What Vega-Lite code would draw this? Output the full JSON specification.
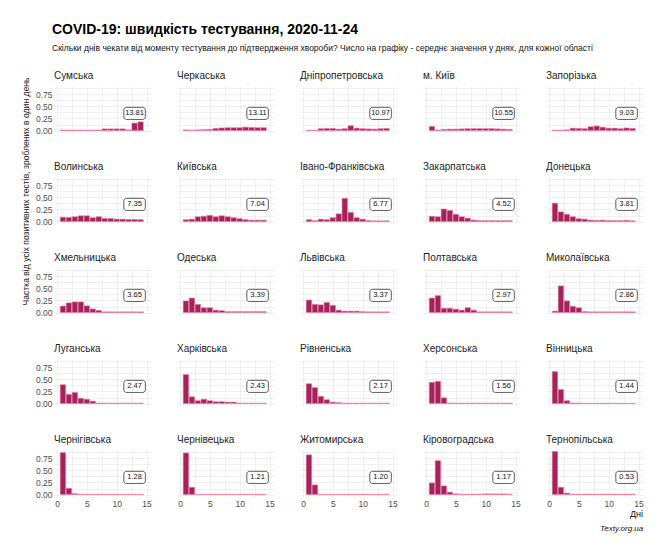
{
  "$schema": "https://vega.github.io/schema/vega-lite/v6.json",
  "padding": {"left": 21, "top": 22, "right": 10, "bottom": 5},
  "background": "white",
  "title": {
    "text": "COVID-19: швидкість тестування, 2020-11-24",
    "subtitle": "Скільки днів чекати від моменту тестування до підтвердження хвороби? Число на графіку - середнє значення у днях, для кожної області",
    "anchor": "start",
    "frame": "bounds",
    "dx": 31,
    "font": "Liberation Sans, Arial, sans-serif",
    "subtitleFont": "Liberation Sans, Arial, sans-serif",
    "fontSize": 14,
    "fontWeight": "bold",
    "color": "#000000",
    "subtitleFontSize": 8.5,
    "subtitleColor": "#111111",
    "subtitlePadding": 7,
    "offset": 19
  },
  "data": {"values": [
    {"r":"Сумська","m":13.81},{"r":"Черкаська","m":13.11},{"r":"Дніпропетровська","m":10.97},{"r":"м. Київ","m":10.55},{"r":"Запорізька","m":9.03},
    {"r":"Волинська","m":7.35},{"r":"Київська","m":7.04},{"r":"Івано-Франківська","m":6.77},{"r":"Закарпатська","m":4.52},{"r":"Донецька","m":3.81},
    {"r":"Хмельницька","m":3.65},{"r":"Одеська","m":3.39},{"r":"Львівська","m":3.37},{"r":"Полтавська","m":2.97},{"r":"Миколаївська","m":2.86},
    {"r":"Луганська","m":2.47},{"r":"Харківська","m":2.43},{"r":"Рівненська","m":2.17},{"r":"Херсонська","m":1.56},{"r":"Вінницька","m":1.44},
    {"r":"Чернігівська","m":1.28},{"r":"Чернівецька","m":1.21},{"r":"Житомирська","m":1.20},{"r":"Кіровоградська","m":1.17},{"r":"Тернопільська","m":0.53},

    {"r":"Сумська","d":1,"v":0.012},{"r":"Сумська","d":2,"v":0.01},{"r":"Сумська","d":3,"v":0.01},{"r":"Сумська","d":4,"v":0.01},{"r":"Сумська","d":5,"v":0.01},{"r":"Сумська","d":6,"v":0.01},{"r":"Сумська","d":7,"v":0.012},{"r":"Сумська","d":8,"v":0.035},{"r":"Сумська","d":9,"v":0.035},{"r":"Сумська","d":10,"v":0.035},{"r":"Сумська","d":11,"v":0.035},{"r":"Сумська","d":12,"v":0.015},{"r":"Сумська","d":13,"v":0.155},{"r":"Сумська","d":14,"v":0.18},

    {"r":"Черкаська","d":1,"v":0.015},{"r":"Черкаська","d":2,"v":0.01},{"r":"Черкаська","d":3,"v":0.015},{"r":"Черкаська","d":4,"v":0.02},{"r":"Черкаська","d":5,"v":0.025},{"r":"Черкаська","d":6,"v":0.045},{"r":"Черкаська","d":7,"v":0.055},{"r":"Черкаська","d":8,"v":0.06},{"r":"Черкаська","d":9,"v":0.06},{"r":"Черкаська","d":10,"v":0.06},{"r":"Черкаська","d":11,"v":0.07},{"r":"Черкаська","d":12,"v":0.065},{"r":"Черкаська","d":13,"v":0.06},{"r":"Черкаська","d":14,"v":0.06},

    {"r":"Дніпропетровська","d":1,"v":0.01},{"r":"Дніпропетровська","d":2,"v":0.01},{"r":"Дніпропетровська","d":3,"v":0.04},{"r":"Дніпропетровська","d":4,"v":0.045},{"r":"Дніпропетровська","d":5,"v":0.045},{"r":"Дніпропетровська","d":6,"v":0.03},{"r":"Дніпропетровська","d":7,"v":0.04},{"r":"Дніпропетровська","d":8,"v":0.1},{"r":"Дніпропетровська","d":9,"v":0.05},{"r":"Дніпропетровська","d":10,"v":0.04},{"r":"Дніпропетровська","d":11,"v":0.035},{"r":"Дніпропетровська","d":12,"v":0.03},{"r":"Дніпропетровська","d":13,"v":0.04},{"r":"Дніпропетровська","d":14,"v":0.045},

    {"r":"м. Київ","d":1,"v":0.085},{"r":"м. Київ","d":2,"v":0.01},{"r":"м. Київ","d":3,"v":0.025},{"r":"м. Київ","d":4,"v":0.03},{"r":"м. Київ","d":5,"v":0.03},{"r":"м. Київ","d":6,"v":0.035},{"r":"м. Київ","d":7,"v":0.04},{"r":"м. Київ","d":8,"v":0.04},{"r":"м. Київ","d":9,"v":0.04},{"r":"м. Київ","d":10,"v":0.04},{"r":"м. Київ","d":11,"v":0.04},{"r":"м. Київ","d":12,"v":0.035},{"r":"м. Київ","d":13,"v":0.03},{"r":"м. Київ","d":14,"v":0.025},

    {"r":"Запорізька","d":1,"v":0.01},{"r":"Запорізька","d":2,"v":0.01},{"r":"Запорізька","d":3,"v":0.015},{"r":"Запорізька","d":4,"v":0.05},{"r":"Запорізька","d":5,"v":0.045},{"r":"Запорізька","d":6,"v":0.04},{"r":"Запорізька","d":7,"v":0.08},{"r":"Запорізька","d":8,"v":0.095},{"r":"Запорізька","d":9,"v":0.07},{"r":"Запорізька","d":10,"v":0.05},{"r":"Запорізька","d":11,"v":0.05},{"r":"Запорізька","d":12,"v":0.04},{"r":"Запорізька","d":13,"v":0.055},{"r":"Запорізька","d":14,"v":0.045},

    {"r":"Волинська","d":1,"v":0.09},{"r":"Волинська","d":2,"v":0.085},{"r":"Волинська","d":3,"v":0.1},{"r":"Волинська","d":4,"v":0.12},{"r":"Волинська","d":5,"v":0.12},{"r":"Волинська","d":6,"v":0.08},{"r":"Волинська","d":7,"v":0.1},{"r":"Волинська","d":8,"v":0.065},{"r":"Волинська","d":9,"v":0.065},{"r":"Волинська","d":10,"v":0.05},{"r":"Волинська","d":11,"v":0.05},{"r":"Волинська","d":12,"v":0.045},{"r":"Волинська","d":13,"v":0.045},{"r":"Волинська","d":14,"v":0.04},

    {"r":"Київська","d":1,"v":0.04},{"r":"Київська","d":2,"v":0.05},{"r":"Київська","d":3,"v":0.1},{"r":"Київська","d":4,"v":0.11},{"r":"Київська","d":5,"v":0.13},{"r":"Київська","d":6,"v":0.1},{"r":"Київська","d":7,"v":0.12},{"r":"Київська","d":8,"v":0.1},{"r":"Київська","d":9,"v":0.08},{"r":"Київська","d":10,"v":0.06},{"r":"Київська","d":11,"v":0.04},{"r":"Київська","d":12,"v":0.03},{"r":"Київська","d":13,"v":0.03},{"r":"Київська","d":14,"v":0.03},

    {"r":"Івано-Франківська","d":1,"v":0.04},{"r":"Івано-Франківська","d":2,"v":0.02},{"r":"Івано-Франківська","d":3,"v":0.05},{"r":"Івано-Франківська","d":4,"v":0.04},{"r":"Івано-Франківська","d":5,"v":0.08},{"r":"Івано-Франківська","d":6,"v":0.16},{"r":"Івано-Франківська","d":7,"v":0.48},{"r":"Івано-Франківська","d":8,"v":0.19},{"r":"Івано-Франківська","d":9,"v":0.08},{"r":"Івано-Франківська","d":10,"v":0.05},{"r":"Івано-Франківська","d":11,"v":0.02},{"r":"Івано-Франківська","d":12,"v":0.015},{"r":"Івано-Франківська","d":13,"v":0.015},{"r":"Івано-Франківська","d":14,"v":0.015},

    {"r":"Закарпатська","d":1,"v":0.11},{"r":"Закарпатська","d":2,"v":0.1},{"r":"Закарпатська","d":3,"v":0.26},{"r":"Закарпатська","d":4,"v":0.23},{"r":"Закарпатська","d":5,"v":0.15},{"r":"Закарпатська","d":6,"v":0.1},{"r":"Закарпатська","d":7,"v":0.07},{"r":"Закарпатська","d":8,"v":0.03},{"r":"Закарпатська","d":9,"v":0.02},{"r":"Закарпатська","d":10,"v":0.02},{"r":"Закарпатська","d":11,"v":0.02},{"r":"Закарпатська","d":12,"v":0.02},{"r":"Закарпатська","d":13,"v":0.02},{"r":"Закарпатська","d":14,"v":0.02},

    {"r":"Донецька","d":1,"v":0.38},{"r":"Донецька","d":2,"v":0.2},{"r":"Донецька","d":3,"v":0.15},{"r":"Донецька","d":4,"v":0.1},{"r":"Донецька","d":5,"v":0.06},{"r":"Донецька","d":6,"v":0.05},{"r":"Донецька","d":7,"v":0.03},{"r":"Донецька","d":8,"v":0.025},{"r":"Донецька","d":9,"v":0.03},{"r":"Донецька","d":10,"v":0.02},{"r":"Донецька","d":11,"v":0.02},{"r":"Донецька","d":12,"v":0.02},{"r":"Донецька","d":13,"v":0.025},{"r":"Донецька","d":14,"v":0.015},

    {"r":"Хмельницька","d":1,"v":0.135},{"r":"Хмельницька","d":2,"v":0.2},{"r":"Хмельницька","d":3,"v":0.22},{"r":"Хмельницька","d":4,"v":0.22},{"r":"Хмельницька","d":5,"v":0.14},{"r":"Хмельницька","d":6,"v":0.075},{"r":"Хмельницька","d":7,"v":0.045},{"r":"Хмельницька","d":8,"v":0.015},{"r":"Хмельницька","d":9,"v":0.015},{"r":"Хмельницька","d":10,"v":0.015},{"r":"Хмельницька","d":11,"v":0.015},{"r":"Хмельницька","d":12,"v":0.015},{"r":"Хмельницька","d":13,"v":0.015},{"r":"Хмельницька","d":14,"v":0.015},

    {"r":"Одеська","d":1,"v":0.24},{"r":"Одеська","d":2,"v":0.3},{"r":"Одеська","d":3,"v":0.17},{"r":"Одеська","d":4,"v":0.1},{"r":"Одеська","d":5,"v":0.1},{"r":"Одеська","d":6,"v":0.05},{"r":"Одеська","d":7,"v":0.04},{"r":"Одеська","d":8,"v":0.02},{"r":"Одеська","d":9,"v":0.02},{"r":"Одеська","d":10,"v":0.02},{"r":"Одеська","d":11,"v":0.02},{"r":"Одеська","d":12,"v":0.02},{"r":"Одеська","d":13,"v":0.02},{"r":"Одеська","d":14,"v":0.02},

    {"r":"Львівська","d":1,"v":0.26},{"r":"Львівська","d":2,"v":0.17},{"r":"Львівська","d":3,"v":0.16},{"r":"Львівська","d":4,"v":0.21},{"r":"Львівська","d":5,"v":0.15},{"r":"Львівська","d":6,"v":0.05},{"r":"Львівська","d":7,"v":0.03},{"r":"Львівська","d":8,"v":0.03},{"r":"Львівська","d":9,"v":0.03},{"r":"Львівська","d":10,"v":0.02},{"r":"Львівська","d":11,"v":0.015},{"r":"Львівська","d":12,"v":0.015},{"r":"Львівська","d":13,"v":0.015},{"r":"Львівська","d":14,"v":0.015},

    {"r":"Полтавська","d":1,"v":0.3},{"r":"Полтавська","d":2,"v":0.35},{"r":"Полтавська","d":3,"v":0.09},{"r":"Полтавська","d":4,"v":0.09},{"r":"Полтавська","d":5,"v":0.07},{"r":"Полтавська","d":6,"v":0.05},{"r":"Полтавська","d":7,"v":0.1},{"r":"Полтавська","d":8,"v":0.05},{"r":"Полтавська","d":9,"v":0.015},{"r":"Полтавська","d":10,"v":0.015},{"r":"Полтавська","d":11,"v":0.015},{"r":"Полтавська","d":12,"v":0.015},{"r":"Полтавська","d":13,"v":0.015},{"r":"Полтавська","d":14,"v":0.015},

    {"r":"Миколаївська","d":1,"v":0.03},{"r":"Миколаївська","d":2,"v":0.55},{"r":"Миколаївська","d":3,"v":0.24},{"r":"Миколаївська","d":4,"v":0.13},{"r":"Миколаївська","d":5,"v":0.1},{"r":"Миколаївська","d":6,"v":0.02},{"r":"Миколаївська","d":7,"v":0.015},{"r":"Миколаївська","d":8,"v":0.015},{"r":"Миколаївська","d":9,"v":0.015},{"r":"Миколаївська","d":10,"v":0.015},{"r":"Миколаївська","d":11,"v":0.015},{"r":"Миколаївська","d":12,"v":0.015},{"r":"Миколаївська","d":13,"v":0.015},{"r":"Миколаївська","d":14,"v":0.015},

    {"r":"Луганська","d":1,"v":0.39},{"r":"Луганська","d":2,"v":0.19},{"r":"Луганська","d":3,"v":0.23},{"r":"Луганська","d":4,"v":0.11},{"r":"Луганська","d":5,"v":0.09},{"r":"Луганська","d":6,"v":0.05},{"r":"Луганська","d":7,"v":0.012},{"r":"Луганська","d":8,"v":0.01},{"r":"Луганська","d":9,"v":0.01},{"r":"Луганська","d":10,"v":0.01},{"r":"Луганська","d":11,"v":0.01},{"r":"Луганська","d":12,"v":0.01},{"r":"Луганська","d":13,"v":0.01},{"r":"Луганська","d":14,"v":0.01},

    {"r":"Харківська","d":1,"v":0.6},{"r":"Харківська","d":2,"v":0.14},{"r":"Харківська","d":3,"v":0.06},{"r":"Харківська","d":4,"v":0.09},{"r":"Харківська","d":5,"v":0.06},{"r":"Харківська","d":6,"v":0.04},{"r":"Харківська","d":7,"v":0.04},{"r":"Харківська","d":8,"v":0.03},{"r":"Харківська","d":9,"v":0.03},{"r":"Харківська","d":10,"v":0.01},{"r":"Харківська","d":11,"v":0.01},{"r":"Харківська","d":12,"v":0.01},{"r":"Харківська","d":13,"v":0.01},{"r":"Харківська","d":14,"v":0.01},

    {"r":"Рівненська","d":1,"v":0.41},{"r":"Рівненська","d":2,"v":0.33},{"r":"Рівненська","d":3,"v":0.15},{"r":"Рівненська","d":4,"v":0.08},{"r":"Рівненська","d":5,"v":0.03},{"r":"Рівненська","d":6,"v":0.02},{"r":"Рівненська","d":7,"v":0.01},{"r":"Рівненська","d":8,"v":0.01},{"r":"Рівненська","d":9,"v":0.01},{"r":"Рівненська","d":10,"v":0.01},{"r":"Рівненська","d":11,"v":0.01},{"r":"Рівненська","d":12,"v":0.01},{"r":"Рівненська","d":13,"v":0.01},{"r":"Рівненська","d":14,"v":0.01},

    {"r":"Херсонська","d":1,"v":0.44},{"r":"Херсонська","d":2,"v":0.46},{"r":"Херсонська","d":3,"v":0.12},{"r":"Херсонська","d":4,"v":0.01},{"r":"Херсонська","d":5,"v":0.01},{"r":"Херсонська","d":6,"v":0.01},{"r":"Херсонська","d":7,"v":0.01},{"r":"Херсонська","d":8,"v":0.01},{"r":"Херсонська","d":9,"v":0.01},{"r":"Херсонська","d":10,"v":0.01},{"r":"Херсонська","d":11,"v":0.01},{"r":"Херсонська","d":12,"v":0.01},{"r":"Херсонська","d":13,"v":0.01},{"r":"Херсонська","d":14,"v":0.01},

    {"r":"Вінницька","d":1,"v":0.66},{"r":"Вінницька","d":2,"v":0.29},{"r":"Вінницька","d":3,"v":0.06},{"r":"Вінницька","d":4,"v":0.012},{"r":"Вінницька","d":5,"v":0.012},{"r":"Вінницька","d":6,"v":0.007},{"r":"Вінницька","d":7,"v":0.007},{"r":"Вінницька","d":8,"v":0.007},{"r":"Вінницька","d":9,"v":0.007},{"r":"Вінницька","d":10,"v":0.007},{"r":"Вінницька","d":11,"v":0.007},{"r":"Вінницька","d":12,"v":0.007},{"r":"Вінницька","d":13,"v":0.007},{"r":"Вінницька","d":14,"v":0.007},

    {"r":"Чернігівська","d":1,"v":0.865},{"r":"Чернігівська","d":2,"v":0.13},{"r":"Чернігівська","d":3,"v":0.02},{"r":"Чернігівська","d":4,"v":0.007},{"r":"Чернігівська","d":5,"v":0.007},{"r":"Чернігівська","d":6,"v":0.007},{"r":"Чернігівська","d":7,"v":0.007},{"r":"Чернігівська","d":8,"v":0.007},{"r":"Чернігівська","d":9,"v":0.007},{"r":"Чернігівська","d":10,"v":0.007},{"r":"Чернігівська","d":11,"v":0.007},{"r":"Чернігівська","d":12,"v":0.007},{"r":"Чернігівська","d":13,"v":0.007},{"r":"Чернігівська","d":14,"v":0.007},

    {"r":"Чернівецька","d":1,"v":0.86},{"r":"Чернівецька","d":2,"v":0.15},{"r":"Чернівецька","d":3,"v":0.007},{"r":"Чернівецька","d":4,"v":0.007},{"r":"Чернівецька","d":5,"v":0.007},{"r":"Чернівецька","d":6,"v":0.007},{"r":"Чернівецька","d":7,"v":0.007},{"r":"Чернівецька","d":8,"v":0.007},{"r":"Чернівецька","d":9,"v":0.007},{"r":"Чернівецька","d":10,"v":0.007},{"r":"Чернівецька","d":11,"v":0.007},{"r":"Чернівецька","d":12,"v":0.007},{"r":"Чернівецька","d":13,"v":0.007},{"r":"Чернівецька","d":14,"v":0.007},

    {"r":"Житомирська","d":1,"v":0.82},{"r":"Житомирська","d":2,"v":0.2},{"r":"Житомирська","d":3,"v":0.007},{"r":"Житомирська","d":4,"v":0.007},{"r":"Житомирська","d":5,"v":0.007},{"r":"Житомирська","d":6,"v":0.007},{"r":"Житомирська","d":7,"v":0.007},{"r":"Житомирська","d":8,"v":0.007},{"r":"Житомирська","d":9,"v":0.007},{"r":"Житомирська","d":10,"v":0.007},{"r":"Житомирська","d":11,"v":0.007},{"r":"Житомирська","d":12,"v":0.007},{"r":"Житомирська","d":13,"v":0.007},{"r":"Житомирська","d":14,"v":0.007},

    {"r":"Кіровоградська","d":1,"v":0.24},{"r":"Кіровоградська","d":2,"v":0.7},{"r":"Кіровоградська","d":3,"v":0.18},{"r":"Кіровоградська","d":4,"v":0.05},{"r":"Кіровоградська","d":5,"v":0.015},{"r":"Кіровоградська","d":6,"v":0.01},{"r":"Кіровоградська","d":7,"v":0.01},{"r":"Кіровоградська","d":8,"v":0.01},{"r":"Кіровоградська","d":9,"v":0.01},{"r":"Кіровоградська","d":10,"v":0.015},{"r":"Кіровоградська","d":11,"v":0.015},{"r":"Кіровоградська","d":12,"v":0.015},{"r":"Кіровоградська","d":13,"v":0.015},{"r":"Кіровоградська","d":14,"v":0.01},

    {"r":"Тернопільська","d":1,"v":0.89},{"r":"Тернопільська","d":2,"v":0.15},{"r":"Тернопільська","d":3,"v":0.03},{"r":"Тернопільська","d":4,"v":0.01},{"r":"Тернопільська","d":5,"v":0.01},{"r":"Тернопільська","d":6,"v":0.01},{"r":"Тернопільська","d":7,"v":0.01},{"r":"Тернопільська","d":8,"v":0.01},{"r":"Тернопільська","d":9,"v":0.01},{"r":"Тернопільська","d":10,"v":0.01},{"r":"Тернопільська","d":11,"v":0.01},{"r":"Тернопільська","d":12,"v":0.01},{"r":"Тернопільська","d":13,"v":0.01},{"r":"Тернопільська","d":14,"v":0.01}
  ]},
  "spacing": 0,
  "hconcat": [
    {
      "width": 1,
      "height": 210,
      "transform": [{"filter": "isValid(datum.v)"}],
      "mark": {"type": "point", "opacity": 0},
      "encoding": {
        "y": {
          "field": "v", "type": "quantitative",
          "axis": {
            "title": "Частка від усіх позитивних тестів, зроблених в один день",
            "titleAnchor": "middle",
            "labels": false, "grid": false, "ticks": false, "domain": false,
            "titlePadding": 1
          }
        }
      }
    },
    {
      "title": {
        "text": "Texty.org.ua",
        "orient": "bottom",
        "anchor": "end",
        "fontSize": 8,
        "fontStyle": "italic",
        "fontWeight": "normal",
        "color": "#111111",
        "font": "Liberation Sans, Arial, sans-serif",
        "offset": 6
      },
      "facet": {
        "field": "r",
        "type": "nominal",
        "sort": ["Сумська","Черкаська","Дніпропетровська","м. Київ","Запорізька","Волинська","Київська","Івано-Франківська","Закарпатська","Донецька","Хмельницька","Одеська","Львівська","Полтавська","Миколаївська","Луганська","Харківська","Рівненська","Херсонська","Вінницька","Чернігівська","Чернівецька","Житомирська","Кіровоградська","Тернопільська"],
        "title": "Дні",
        "header": {
          "labelAnchor": "start",
          "labelAlign": "left",
          "labelFontSize": 10,
          "labelColor": "#222222",
          "labelPadding": 5,
          "labelFont": "Liberation Sans, Arial, sans-serif",
          "titleOrient": "bottom",
          "titleAnchor": "end",
          "titlePadding": 2,
          "titleFontSize": 9,
          "titleFontWeight": "normal",
          "titleColor": "#111111",
          "titleFont": "Liberation Sans, Arial, sans-serif"
        }
      },
      "columns": 5,
      "spacing": {"row": 29, "column": 26},
      "spec": {
        "width": 97,
        "height": 47,
        "layer": [
          {
            "transform": [{"filter": "isValid(datum.d)"}],
            "mark": {"type": "bar", "width": 5.5, "color": "#a3245a", "stroke": "#f07fab", "strokeWidth": 0.6},
            "encoding": {
              "x": {
                "field": "d", "type": "quantitative",
                "scale": {"domain": [-0.5, 15.75], "nice": false, "zero": false, "padding": 0},
                "axis": {"title": null, "values": [0, 2.5, 5, 7.5, 10, 12.5, 15], "labelExpr": "datum.value == 0 || datum.value == 5 || datum.value == 10 || datum.value == 15 ? datum.label : ''", "grid": true, "gridColor": "#e9e9e9", "gridWidth": 0.7}
              },
              "y": {
                "field": "v", "type": "quantitative",
                "scale": {"domain": [-0.05, 0.92], "nice": false, "zero": false, "padding": 0},
                "axis": {"title": null, "values": [0, 0.125, 0.25, 0.375, 0.5, 0.625, 0.75, 0.875], "format": ".2f", "labelExpr": "datum.value == 0 || datum.value == 0.25 || datum.value == 0.5 || datum.value == 0.75 ? datum.label : ''", "grid": true, "gridColor": "#e9e9e9", "gridWidth": 0.7}
              }
            }
          },
          {
            "transform": [{"filter": "isValid(datum.m)"}],
            "mark": {"type": "rect", "fill": "white", "stroke": "#333333", "strokeWidth": 0.8, "cornerRadius": 2.5},
            "encoding": {
              "x": {"datum": 11.2, "type": "quantitative",
                "scale": {"domain": [-0.5, 15.75], "nice": false, "zero": false, "padding": 0},
                "axis": {"title": null, "values": [0, 2.5, 5, 7.5, 10, 12.5, 15], "labelExpr": "datum.value == 0 || datum.value == 5 || datum.value == 10 || datum.value == 15 ? datum.label : ''", "grid": true, "gridColor": "#e9e9e9", "gridWidth": 0.7}},
              "x2": {"datum": 14.8},
              "y": {"datum": 0.23, "type": "quantitative",
                "scale": {"domain": [-0.05, 0.92], "nice": false, "zero": false, "padding": 0},
                "axis": {"title": null, "values": [0, 0.125, 0.25, 0.375, 0.5, 0.625, 0.75, 0.875], "format": ".2f", "labelExpr": "datum.value == 0 || datum.value == 0.25 || datum.value == 0.5 || datum.value == 0.75 ? datum.label : ''", "grid": true, "gridColor": "#e9e9e9", "gridWidth": 0.7}},
              "y2": {"datum": 0.48}
            }
          },
          {
            "transform": [{"filter": "isValid(datum.m)"}],
            "mark": {"type": "text", "fontSize": 7.5, "color": "#111111", "font": "Liberation Sans, Arial, sans-serif", "baseline": "middle"},
            "encoding": {
              "x": {"datum": 13, "type": "quantitative",
                "scale": {"domain": [-0.5, 15.75], "nice": false, "zero": false, "padding": 0},
                "axis": {"title": null, "values": [0, 2.5, 5, 7.5, 10, 12.5, 15], "labelExpr": "datum.value == 0 || datum.value == 5 || datum.value == 10 || datum.value == 15 ? datum.label : ''", "grid": true, "gridColor": "#e9e9e9", "gridWidth": 0.7}},
              "y": {"datum": 0.355, "type": "quantitative",
                "scale": {"domain": [-0.05, 0.92], "nice": false, "zero": false, "padding": 0},
                "axis": {"title": null, "values": [0, 0.125, 0.25, 0.375, 0.5, 0.625, 0.75, 0.875], "format": ".2f", "labelExpr": "datum.value == 0 || datum.value == 0.25 || datum.value == 0.5 || datum.value == 0.75 ? datum.label : ''", "grid": true, "gridColor": "#e9e9e9", "gridWidth": 0.7}},
              "text": {"field": "m", "type": "quantitative", "format": ".2f"}
            }
          }
        ]
      }
    }
  ],
  "config": {
    "view": {"stroke": null},
    "axis": {
      "domain": false,
      "ticks": false,
      "labelOverlap": false,
      "labelFont": "Liberation Sans, Arial, sans-serif",
      "labelFontSize": 8.5,
      "labelColor": "#4d4d4d",
      "labelPadding": 2,
      "titleFont": "Liberation Sans, Arial, sans-serif",
      "titleFontSize": 8.6,
      "titleFontWeight": "normal",
      "titleColor": "#222222"
    }
  }
}
